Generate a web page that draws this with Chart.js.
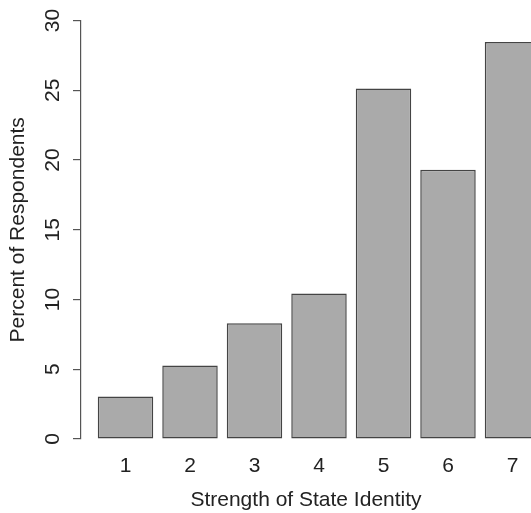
<!DOCTYPE html>
<html>
<head>
<meta charset="utf-8">
<script src="https://cdn.jsdelivr.net/npm/chart.js@4/dist/chart.umd.min.js"></script>
<style>
  html, body { margin: 0; padding: 0; background: #ffffff; overflow: hidden; }
  #wrap { width: 531px; height: 513px; position: relative; }
  canvas { display: block; }
</style>
</head>
<body>
<div id="wrap"><canvas id="c" width="531" height="513"></canvas></div>
<script>
// ---- data ----
const categories = [1, 2, 3, 4, 5, 6, 7];
const percentages = [3.05, 5.27, 8.3, 10.43, 25.13, 19.3, 28.46];
const yTickValues = [0, 5, 10, 15, 20, 25, 30];
const xTitle = 'Strength of State Identity';
const yTitle = 'Percent of Respondents';

const FONT = 'Liberation Sans, Arial, Helvetica, sans-serif';
const TEXT = '#222222';

new Chart(document.getElementById('c'), {
  type: 'bar',
  data: {
    datasets: [{
      data: categories.map((c, i) => ({ x: c, y: percentages[i] })),
      backgroundColor: '#aaaaaa',
      borderColor: '#444444',
      borderWidth: 1.5,
      borderSkipped: false,
      barPercentage: 0.86,
      categoryPercentage: 1.0
    }]
  },
  options: {
    responsive: false,
    animation: false,
    events: [],
    layout: { padding: { top: 16, right: 0, left: 0, bottom: 0 } },
    plugins: { legend: { display: false }, tooltip: { enabled: false } },
    scales: {
      x: {
        type: 'linear',
        offset: false,
        bounds: 'data',
        min: 0.31,
        max: 7.287,
        grid: { display: false, drawTicks: false, offset: false },
        border: { display: false },
        afterBuildTicks: (scale) => { scale.ticks = categories.map(v => ({ value: v })); },
        afterFit: (scale) => { scale.height = 74; scale.paddingLeft = 0; scale.paddingRight = 0; },
        ticks: {
          autoSkip: false,
          maxRotation: 0,
          padding: 15,
          color: TEXT,
          font: { family: FONT, size: 21 },
          callback: (v) => String(v)
        },
        title: {
          display: true,
          text: xTitle,
          color: TEXT,
          font: { family: FONT, size: 21 },
          padding: { top: 0, bottom: 0 }
        }
      },
      y: {
        type: 'linear',
        min: 0,
        max: 30,
        afterBuildTicks: (scale) => { scale.ticks = yTickValues.map(v => ({ value: v })); },
        afterFit: (scale) => { scale.width = 81; },
        grid: {
          display: true,
          drawOnChartArea: false,
          drawTicks: true,
          tickLength: 8,
          color: '#555555',
          lineWidth: 1.2
        },
        border: { display: true, color: '#555555', width: 1.2 },
        ticks: {
          minRotation: 90,
          maxRotation: 90,
          crossAlign: 'center',
          padding: 8,
          color: TEXT,
          font: { family: FONT, size: 21 }
        },
        title: {
          display: true,
          text: yTitle,
          color: TEXT,
          font: { family: FONT, size: 21 },
          padding: { top: 6, bottom: 0 }
        }
      }
    }
  }
});
</script>
</body>
</html>
